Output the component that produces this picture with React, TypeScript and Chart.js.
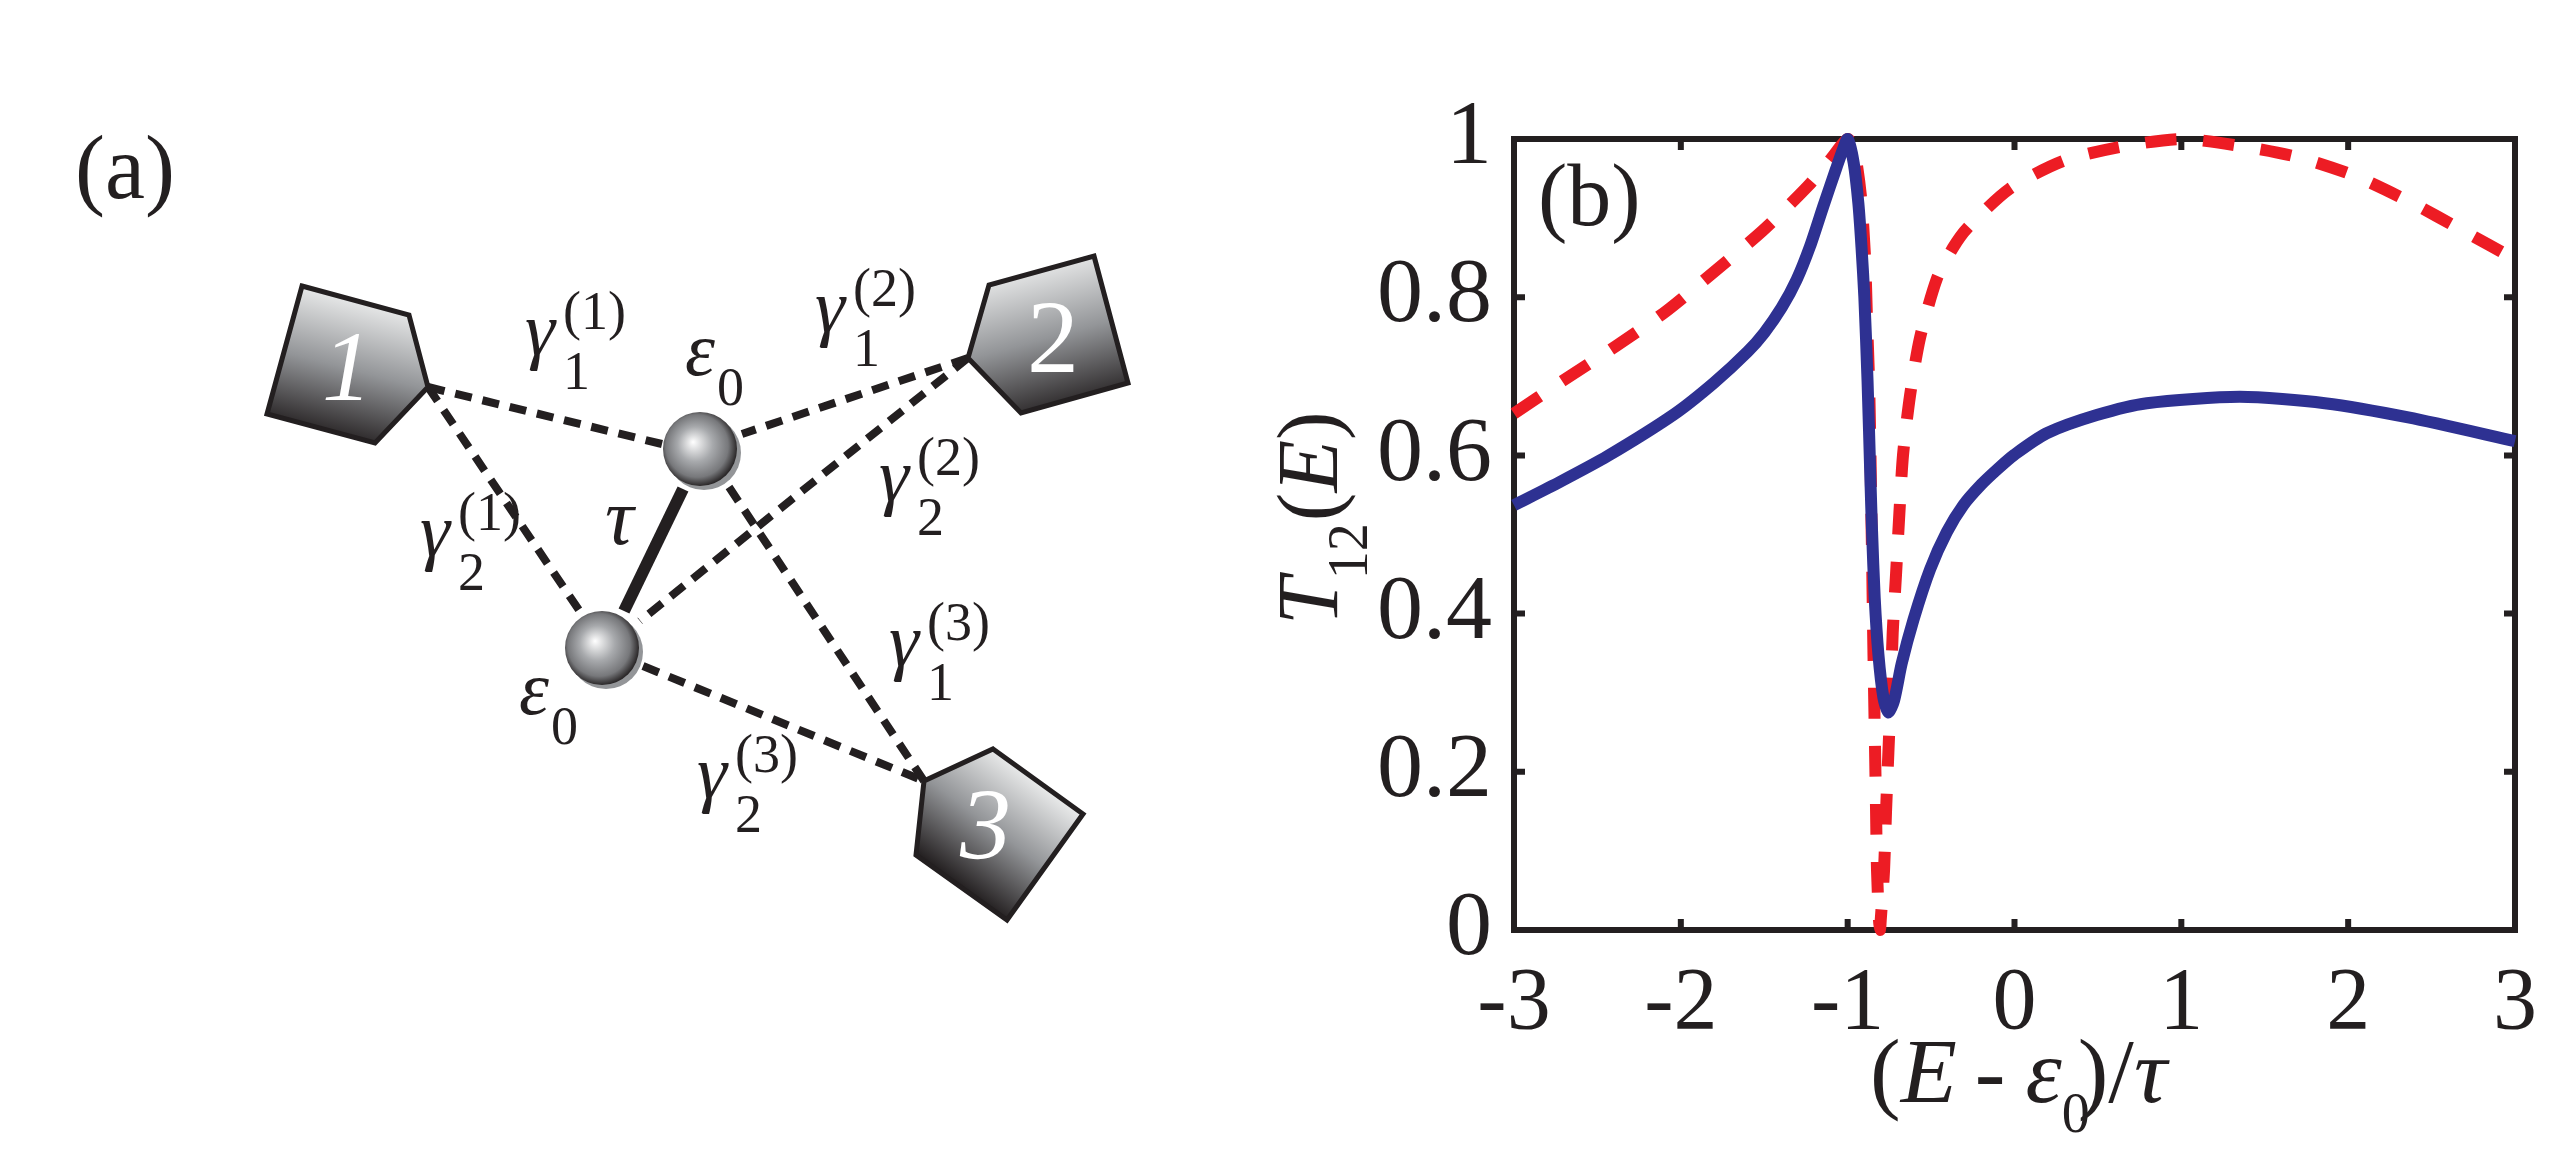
import { Chart, registerables } from 'chart.js';
import { useEffect, useRef } from 'react';

Chart.register(...registerables);

// Panel (b) values
const blueX = [-3, -2.72, -2.44, -2.04, -1.8, -1.6, -1.5, -1.395, -1.306, -1.226, -1.146, -1.07, -1.03, -1, -0.964, -0.936, -0.917, -0.9, -0.881, -0.863, -0.854, -0.838, -0.816, -0.786, -0.756, -0.722, -0.676, -0.606, -0.506, -0.406, -0.307, -0.2, -0.1, 0, 0.193, 0.493, 0.793, 1.35, 1.86, 2.36, 3];
const blueY = [0.537, 0.567, 0.599, 0.652, 0.692, 0.731, 0.755, 0.787, 0.822, 0.864, 0.915, 0.962, 0.986, 1, 0.97, 0.919, 0.863, 0.8, 0.695, 0.565, 0.505, 0.42, 0.349, 0.294, 0.275, 0.29, 0.337, 0.392, 0.456, 0.503, 0.537, 0.563, 0.583, 0.601, 0.628, 0.651, 0.666, 0.674, 0.666, 0.648, 0.618];
const redX = [-3, -2.71, -2.39, -2.09, -1.79, -1.51, -1.24, -1.1, -1, -0.96, -0.92, -0.896, -0.884, -0.872, -0.865, -0.858, -0.853, -0.848, -0.842, -0.836, -0.83, -0.824, -0.812, -0.806, -0.802, -0.782, -0.77, -0.756, -0.742, -0.73, -0.71, -0.69, -0.668, -0.626, -0.566, -0.466, -0.37, -0.28, -0.03, 0.29, 0.63, 1, 1.36, 1.7, 2.045, 2.375, 2.69, 3];
const redY = [0.653, 0.694, 0.738, 0.782, 0.834, 0.884, 0.94, 0.975, 1, 0.985, 0.927, 0.851, 0.771, 0.695, 0.623, 0.527, 0.463, 0.385, 0.306, 0.23, 0.153, 0.075, 0.012, 0, 0.012, 0.075, 0.15, 0.224, 0.298, 0.376, 0.45, 0.527, 0.601, 0.676, 0.749, 0.823, 0.862, 0.888, 0.937, 0.972, 0.99, 1, 0.991, 0.977, 0.953, 0.92, 0.884, 0.848];
const xTicks = [-3, -2, -1, 0, 1, 2, 3];
const yTicks = [0, 0.2, 0.4, 0.6, 0.8, 1];

// Panel (a) schematic, in page pixels
const pentagons = [
    { label: '1', italic: true, size: 100, at: [322, 400], pts: [[302, 286], [409, 315], [428, 387], [375, 443], [267, 414]], grad: [[372, 300], [335, 440]] },
    { label: '2', italic: false, size: 104, at: [1027, 372], pts: [[1094, 256], [1128, 383], [1021, 413], [968, 358], [989, 285]], grad: [[1035, 262], [1075, 410]] },
    { label: '3', italic: true, size: 102, at: [960, 859], pts: [[993, 749], [1083, 814], [1007, 920], [916, 855], [924, 781]], grad: [[1042, 782], [962, 888]] },
];
const spheres = [[700, 449], [602, 648]];
const links = [
    [[428, 387], [662, 444]],
    [[428, 387], [583, 616]],
    [[968, 358], [742, 434]],
    [[968, 358], [640, 621]],
    [[729, 487], [924, 781]],
    [[643, 666], [924, 781]],
];
const bond = [[683, 489], [624, 611]];
const gammas = [
    { sub: '1', sup: '(1)', at: [525, 355] },
    { sub: '1', sup: '(2)', at: [815, 332] },
    { sub: '2', sup: '(2)', at: [879, 501] },
    { sub: '2', sup: '(1)', at: [420, 556] },
    { sub: '1', sup: '(3)', at: [889, 666] },
    { sub: '2', sup: '(3)', at: [697, 798] },
];
const epsilons = [[685, 375], [519, 714]];

const ink = '#231f20';
const serif = '"Liberation Serif"';
const panelAWidth = 1240;

type Run = { t: string; size: number; italic?: boolean; dy?: number; dx?: number };

function drawRuns(ctx: CanvasRenderingContext2D, x: number, y: number, runs: Run[]) {
    let cx = x;
    ctx.fillStyle = ink;
    ctx.textAlign = 'left';
    ctx.textBaseline = 'alphabetic';
    for (const r of runs) {
        ctx.font = `${r.italic ? 'italic ' : ''}${r.size}px ${serif}`;
        cx += r.dx ?? 0;
        ctx.fillText(r.t, cx, y + (r.dy ?? 0));
        cx += ctx.measureText(r.t).width;
    }
}

const schematicPlugin = {
    id: 'schematic',
    afterDatasetsDraw(chart: any) {
        const { ctx, scales } = chart;
        const px = (v: number) => scales.x.getPixelForValue(v);
        const py = (v: number) => scales.y.getPixelForValue(v);
        ctx.save();

        for (const p of pentagons) {
            const g = ctx.createLinearGradient(px(p.grad[0][0]), py(p.grad[0][1]), px(p.grad[1][0]), py(p.grad[1][1]));
            g.addColorStop(0, '#eceded');
            g.addColorStop(0.5, '#939598');
            g.addColorStop(1, '#231f20');
            ctx.beginPath();
            p.pts.forEach(([x, y], i) => (i ? ctx.lineTo(px(x), py(y)) : ctx.moveTo(px(x), py(y))));
            ctx.closePath();
            ctx.fillStyle = g;
            ctx.fill();
            ctx.strokeStyle = ink;
            ctx.lineWidth = 5;
            ctx.lineJoin = 'miter';
            ctx.stroke();
            ctx.fillStyle = '#ffffff';
            ctx.font = `${p.italic ? 'italic ' : ''}${p.size}px ${serif}`;
            ctx.textAlign = 'left';
            ctx.textBaseline = 'alphabetic';
            ctx.fillText(p.label, px(p.at[0]), py(p.at[1]));
        }

        for (const [x, y] of spheres) {
            ctx.beginPath();
            ctx.arc(px(x + 4), py(y + 4), 37, 0, Math.PI * 2);
            ctx.fillStyle = '#939598';
            ctx.fill();
            const g = ctx.createRadialGradient(px(x - 7), py(y - 7), 0, px(x - 2), py(y - 2), 39);
            g.addColorStop(0, '#ffffff');
            g.addColorStop(0.45, '#a7a9ac');
            g.addColorStop(0.8, '#77787b');
            g.addColorStop(1, '#2b2829');
            ctx.beginPath();
            ctx.arc(px(x), py(y), 37, 0, Math.PI * 2);
            ctx.fillStyle = g;
            ctx.fill();
        }

        drawRuns(ctx, 75, 198, [{ t: '(a)', size: 90 }]);
        for (const g of gammas) {
            const [x, y] = g.at;
            drawRuns(ctx, px(x), py(y), [{ t: 'γ', size: 76, italic: true }]);
            drawRuns(ctx, px(x + 38), py(y + 34), [{ t: g.sub, size: 54 }]);
            drawRuns(ctx, px(x + 38), py(y - 26), [{ t: g.sup, size: 54 }]);
        }
        for (const [x, y] of epsilons) {
            drawRuns(ctx, px(x), py(y), [
                { t: 'ε', size: 76, italic: true },
                { t: '0', size: 54, dy: 30, dx: 2 },
            ]);
        }
        drawRuns(ctx, px(605), py(544), [{ t: 'τ', size: 80, italic: true }]);
        ctx.restore();
    },
};

const framePlugin = {
    id: 'frame',
    beforeDatasetsDraw(chart: any) {
        const { ctx, scales, chartArea: a } = chart;
        ctx.save();
        ctx.strokeStyle = ink;
        ctx.lineWidth = 6;
        ctx.lineJoin = 'miter';
        ctx.strokeRect(a.left, a.top, a.right - a.left, a.bottom - a.top);
        ctx.beginPath();
        for (const t of xTicks.slice(1, -1)) {
            const x = scales.x.getPixelForValue(t);
            ctx.moveTo(x, a.bottom);
            ctx.lineTo(x, a.bottom - 11);
            ctx.moveTo(x, a.top);
            ctx.lineTo(x, a.top + 11);
        }
        for (const t of yTicks.slice(1, -1)) {
            const y = scales.y.getPixelForValue(t);
            ctx.moveTo(a.left, y);
            ctx.lineTo(a.left + 11, y);
            ctx.moveTo(a.right, y);
            ctx.lineTo(a.right - 11, y);
        }
        ctx.stroke();
        ctx.restore();
    },
    afterDraw(chart: any) {
        const { ctx } = chart;
        ctx.save();
        drawRuns(ctx, 1870 - panelAWidth, 1102, [
            { t: '(', size: 92 },
            { t: 'E', size: 92, italic: true },
            { t: '-', size: 92, dx: 18 },
            { t: 'ε', size: 92, italic: true, dx: 20 },
            { t: '0', size: 56, dy: 30, dx: 0 },
            { t: ')/', size: 92, dx: -12 },
            { t: 'τ', size: 92, italic: true },
        ]);
        ctx.translate(1337 - panelAWidth, 625);
        ctx.rotate(-Math.PI / 2);
        drawRuns(ctx, 0, 0, [
            { t: 'T', size: 86, italic: true },
            { t: '12', size: 56, dy: 30, dx: -2 },
            { t: '(', size: 86, dx: 2 },
            { t: 'E', size: 86, italic: true },
            { t: ')', size: 86 },
        ]);
        ctx.restore();
        drawRuns(ctx, 1538 - panelAWidth, 225, [{ t: '(b)', size: 88 }]);
    },
};

export default function App() {
    const schematicRef = useRef<HTMLCanvasElement>(null);
    const plotRef = useRef<HTMLCanvasElement>(null);

    useEffect(() => {
        document.body.style.margin = '0';
        document.body.style.background = '#ffffff';
        if (!schematicRef.current || !plotRef.current) return;

        const schematic = new Chart(schematicRef.current, {
            type: 'scatter',
            data: {
                datasets: [
                    ...links.map((l) => ({
                        data: l.map(([x, y]) => ({ x, y })),
                        showLine: true,
                        borderColor: ink,
                        borderWidth: 8,
                        borderDash: [17, 11],
                        pointRadius: 0,
                    })),
                    {
                        data: bond.map(([x, y]) => ({ x, y })),
                        showLine: true,
                        borderColor: ink,
                        borderWidth: 12,
                        pointRadius: 0,
                    },
                ],
            },
            options: {
                animation: false,
                responsive: false,
                devicePixelRatio: 1,
                layout: { padding: 0 },
                plugins: { legend: { display: false }, tooltip: { enabled: false } },
                scales: {
                    x: { type: 'linear', display: false, min: 0, max: panelAWidth },
                    y: { type: 'linear', display: false, min: 0, max: 1173, reverse: true },
                },
            },
            plugins: [schematicPlugin],
        } as any);

        const plot = new Chart(plotRef.current, {
            type: 'line',
            data: {
                datasets: [
                    {
                        label: 'solid',
                        data: blueX.map((x, i) => ({ x, y: blueY[i] })),
                        borderColor: '#2e3192',
                        borderWidth: 12,
                        pointRadius: 0,
                        tension: 0.25,
                        capBezierPoints: false,
                        clip: false,
                        order: 1,
                    },
                    {
                        label: 'dashed',
                        data: redX.map((x, i) => ({ x, y: redY[i] })),
                        borderColor: '#ed1c24',
                        borderWidth: 12,
                        borderDash: [31, 27],
                        pointRadius: 0,
                        tension: 0.25,
                        capBezierPoints: false,
                        clip: false,
                        order: 2,
                    },
                ],
            },
            options: {
                animation: false,
                responsive: false,
                devicePixelRatio: 1,
                layout: { padding: { top: 139, right: 49, left: 0, bottom: 0 } },
                plugins: { legend: { display: false }, tooltip: { enabled: false } },
                scales: {
                    x: {
                        type: 'linear',
                        min: -3,
                        max: 3,
                        grid: { display: false },
                        border: { display: false },
                        afterBuildTicks: (s: any) => {
                            s.ticks = xTicks.map((value) => ({ value }));
                        },
                        afterFit: (s: any) => {
                            s.height = 1173 - 930;
                        },
                        ticks: {
                            autoSkip: false,
                            maxRotation: 0,
                            padding: 14,
                            color: ink,
                            font: { family: serif, size: 88 },
                            callback: (v: any) => String(v),
                        },
                    },
                    y: {
                        type: 'linear',
                        min: 0,
                        max: 1,
                        grid: { display: false },
                        border: { display: false },
                        afterBuildTicks: (s: any) => {
                            s.ticks = yTicks.map((value) => ({ value }));
                        },
                        afterFit: (s: any) => {
                            s.width = 1514 - panelAWidth;
                        },
                        ticks: {
                            autoSkip: false,
                            padding: 14,
                            color: ink,
                            font: { family: serif, size: 92 },
                            callback: (v: any) => String(v),
                        },
                    },
                },
            },
            plugins: [framePlugin],
        } as any);

        return () => {
            schematic.destroy();
            plot.destroy();
        };
    }, []);

    return (
        <div style={{ position: 'relative', width: 2564, height: 1173, overflow: 'hidden', background: '#fff' }}>
            <canvas ref={schematicRef} width={panelAWidth} height={1173} style={{ position: 'absolute', left: 0, top: 0 }} />
            <canvas ref={plotRef} width={2564 - panelAWidth} height={1173} style={{ position: 'absolute', left: panelAWidth, top: 0 }} />
        </div>
    );
}
